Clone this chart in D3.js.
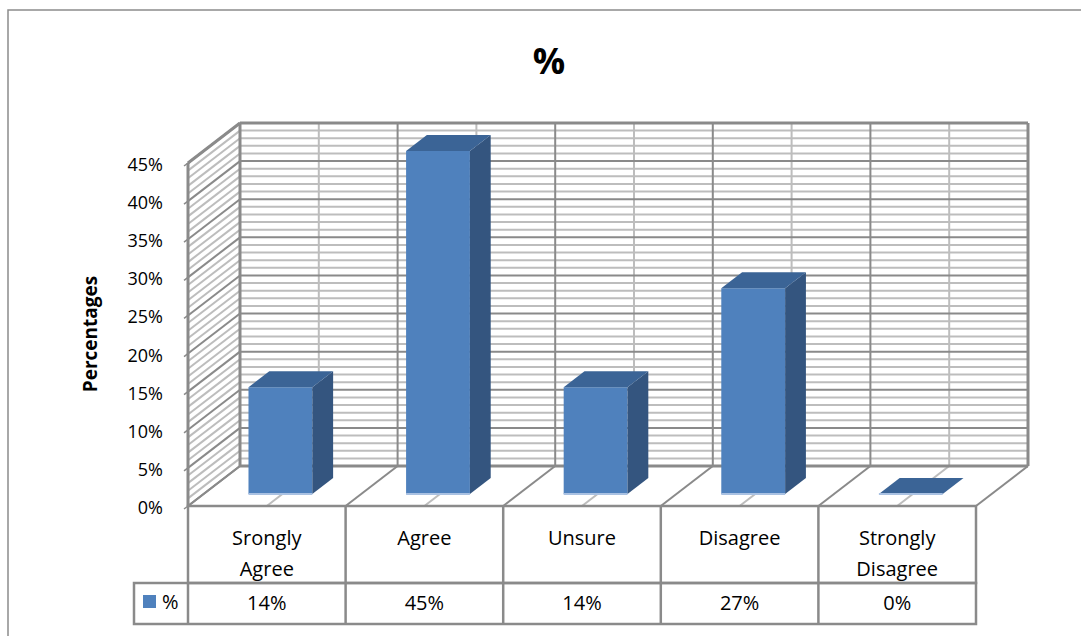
<!DOCTYPE html>
<html>
<head>
<meta charset="utf-8">
<script src="https://cdn.jsdelivr.net/npm/d3@7"></script>
<style>
  body { margin: 0; background: #fff; }
  svg text { font-family: "Open Sans", Lato, sans-serif; fill: #000; }
</style>
</head>
<body>
<script>
// chart data
var categories = ["Srongly Agree", "Agree", "Unsure", "Disagree", "Strongly Disagree"];
var values = [14, 45, 14, 27, 0];
var valueLabels = ["14%", "45%", "14%", "27%", "0%"];
var yTicks = [0, 5, 10, 15, 20, 25, 30, 35, 40, 45];
var seriesName = "%";

var W = 1081, H = 636;
var floorY = 506;      // front edge of the floor
var DX = 52, DY = 40;  // depth offset of the back wall
var dark = "#8a8a8a", light = "#bdbdbd";

var svg = d3.select("body").append("svg")
    .attr("width", W).attr("height", H);

var x = d3.scaleBand().domain(categories).range([188, 976]);
var h = d3.scaleLinear().domain([0, 45]).range([0, 343]);

// project a point: front x, depth fraction (0 front .. 1 back), value
function p(px, d, v) {
    return [px + d * DX, floorY - d * DY - h(v)];
}
function poly(pts) {
    return "M" + pts.map(function(q){ return q.join(","); }).join("L") + "Z";
}
function line(a, b, col, w) {
    svg.append("line")
	.attr("x1", a[0]).attr("y1", a[1])
	.attr("x2", b[0]).attr("y2", b[1])
	.attr("stroke", col).attr("stroke-width", w || 2);
}

// outer chart border
svg.append("rect")
    .attr("x", 8).attr("y", 10)
    .attr("width", W + 20).attr("height", H + 20)
    .attr("fill", "none").attr("stroke", "#8c8c8c").attr("stroke-width", 1.5);

// title
svg.append("text")
    .attr("x", 549).attr("y", 60)
    .attr("text-anchor", "middle").attr("dominant-baseline", "central")
    .style("font-size", "36px").style("font-weight", "bold")
    .text("%");

var x0 = x.range()[0], x1 = x.range()[1];
var minor = d3.range(0, 46, 1);

// back wall grid
minor.forEach(function(v){
    if (v % 5 == 0) return;
    line(p(x0, 1, v), p(x1, 1, v), light, 2);
});
categories.forEach(function(c){
    var cx = x(c) + x.bandwidth() / 2;
    line(p(cx, 1, 0), p(cx, 1, 45), light, 2);
});
categories.forEach(function(c, i){
    if (i == 0) return;
    line(p(x(c), 1, 0), p(x(c), 1, 45), dark, 2);
});
yTicks.forEach(function(v){
    line(p(x0, 1, v), p(x1, 1, v), dark, 2);
});

// side wall grid
minor.forEach(function(v){
    if (v % 5 == 0) return;
    line(p(x0, 0, v), p(x0, 1, v), light, 2);
});
yTicks.forEach(function(v){
    line(p(x0, 0, v), p(x0, 1, v), dark, 2);
});

// floor grid
categories.forEach(function(c){
    var cx = x(c) + x.bandwidth() / 2;
    line(p(cx, 0, 0), p(cx, 1, 0), light, 2);
});
categories.forEach(function(c){
    line(p(x(c), 0, 0), p(x(c), 1, 0), dark, 2);
});
line(p(x1, 0, 0), p(x1, 1, 0), dark, 2);

// wall outlines
line(p(x0, 1, 45), p(x1, 1, 45), dark, 3);
line(p(x1, 1, 45), p(x1, 1, 0), dark, 3);
line(p(x0, 1, 0), p(x1, 1, 0), dark, 3);
line(p(x0, 1, 45), p(x0, 1, 0), dark, 3);
line(p(x0, 0, 45), p(x0, 0, 0), dark, 3);
line(p(x0, 0, 45), p(x0, 1, 45), dark, 3);

// y tick marks and labels
yTicks.forEach(function(v){
    var q = p(x0, 0, v);
    line([q[0] - 4, q[1] + 3], q, dark, 1.5);
    svg.append("text")
	.attr("x", 163).attr("y", q[1] + 1)
	.attr("text-anchor", "end").attr("dominant-baseline", "central")
	.style("font-size", "18px")
	.text(v + "%");
});

svg.append("text")
    .attr("transform", "translate(90,334) rotate(-90)")
    .attr("text-anchor", "middle").attr("dominant-baseline", "central")
    .style("font-size", "19px").style("font-weight", "bold")
    .text("Percentages");

// bars
var bw = x.bandwidth() * 0.405;
var d0 = 0.3, d1 = 0.7;
categories.forEach(function(c, i){
    var v = values[i];
    var l = x(c) + (x.bandwidth() - bw) / 2 - 2;
    var r = l + bw;
    if (v > 0) {
	svg.append("path")
	    .attr("d", poly([p(l, d0, 0), p(r, d0, 0), p(r, d0, v), p(l, d0, v)]))
	    .attr("fill", "#4f81bd");
	svg.append("path")
	    .attr("d", poly([p(r, d0, 0), p(r, d1, 0), p(r, d1, v), p(r, d0, v)]))
	    .attr("fill", "#34557f");
	line(p(l, d0, 0), p(r, d0, 0), "#a9c1e2", 2);
    }
    svg.append("path")
	.attr("d", poly([p(l, d0, v), p(r, d0, v), p(r, d1, v), p(l, d1, v)]))
	.attr("fill", "#3b6496");
    if (v == 0) line(p(l, d0, 0), p(r, d0, 0), "#a9c1e2", 2);
});

// data table
var rowTop = floorY, row1 = 583, row2 = 624, legX = 134;
svg.append("rect")
    .attr("x", x0).attr("y", rowTop).attr("width", x1 - x0).attr("height", row1 - rowTop)
    .attr("fill", "none").attr("stroke", dark).attr("stroke-width", 2.5);
svg.append("rect")
    .attr("x", legX).attr("y", row1).attr("width", x1 - legX).attr("height", row2 - row1)
    .attr("fill", "none").attr("stroke", dark).attr("stroke-width", 2.5);
categories.forEach(function(c, i){
    if (i == 0) return;
    line([x(c), rowTop], [x(c), row2], dark, 2.5);
});
line([x0, row1], [x0, row2], dark, 2.5);

categories.forEach(function(c, i){
    var cx = x(c) + x.bandwidth() / 2;
    var t = svg.append("text")
	.attr("text-anchor", "middle")
	.style("font-size", "20px");
    c.split(" ").forEach(function(w, j){
	t.append("tspan").attr("x", cx).attr("y", 545 + j * 31).text(w);
    });
    svg.append("text")
	.attr("x", cx).attr("y", 610)
	.attr("text-anchor", "middle")
	.style("font-size", "20px")
	.text(valueLabels[i]);
});

svg.append("rect")
    .attr("x", 143).attr("y", 595).attr("width", 13).attr("height", 13)
    .attr("fill", "#4f81bd");
svg.append("text")
    .attr("x", 162).attr("y", 609)
    .style("font-size", "20px")
    .text(seriesName);
</script>
</body>
</html>
